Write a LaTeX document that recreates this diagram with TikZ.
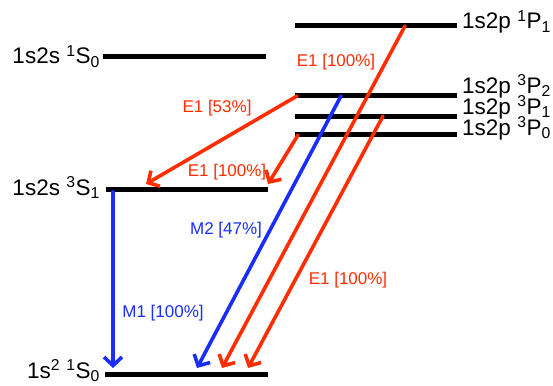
\documentclass[tikz,border=0pt]{standalone}
\usepackage{fontspec}
\setmainfont{Liberation Sans}
\usetikzlibrary{arrows.meta}
\definecolor{trred}{RGB}{255,45,0}
\definecolor{trblue}{RGB}{25,45,255}
\tikzset{
  level/.style={line width=5pt},
  lvltext/.style={inner sep=0pt,font=\fontsize{22.5}{25}\selectfont},
  trans/.style={line width=3.6pt,line cap=round,
    -{Straight Barb[length=8.5pt,width=18pt,line width=3.6pt]}},
  trtext/.style={inner sep=0pt,font=\fontsize{17}{19}\selectfont},
}

\begin{document}
\begin{tikzpicture}[x=1pt,y=-1pt]
    \useasboundingbox (0,0) rectangle (553,385);
    %% levels
    \coordinate (P1a) at (295,26);   \coordinate (P1b) at (457,26);
    \coordinate (S1a) at (103,57);   \coordinate (S1b) at (266,57);
    \coordinate (P2a) at (295,96);   \coordinate (P2b) at (457,96);
    \coordinate (Q1a) at (295,116);  \coordinate (Q1b) at (457,116);
    \coordinate (P0a) at (295,134);  \coordinate (P0b) at (457,134);
    \coordinate (T1a) at (106,189);  \coordinate (T1b) at (268,189);
    \coordinate (G0a) at (105,374);  \coordinate (G0b) at (268,374);
    \draw [level] (P1a) -- (P1b);
    \draw [level] (S1a) -- (S1b);
    \draw [level] (P2a) -- (P2b);
    \draw [level] (Q1a) -- (Q1b);
    \draw [level] (P0a) -- (P0b);
    \draw [level] (T1a) -- (T1b);
    \draw [level] (G0a) -- (G0b);
    %% level labels
    \node [lvltext,anchor=base west] (P1t) at ([xshift=5pt,yshift=-3pt]P1b) {1s2p \textsuperscript{1}P\textsubscript{1}};
    \node [lvltext,anchor=base west] (P2t) at ([xshift=5pt,yshift=3pt]P2b) {1s2p \textsuperscript{3}P\textsubscript{2}};
    \node [lvltext,anchor=base west] (Q1t) at ([xshift=5pt,yshift=2pt]Q1b) {1s2p \textsuperscript{3}P\textsubscript{1}};
    \node [lvltext,anchor=base west] (P0t) at ([xshift=5pt,yshift=-1pt]P0b) {1s2p \textsuperscript{3}P\textsubscript{0}};
    \node [lvltext,anchor=base east] (S1t) at ([xshift=-3pt,yshift=-7pt]S1a) {1s2s \textsuperscript{1}S\textsubscript{0}};
    \node [lvltext,anchor=base east] (T1t) at ([xshift=-6pt,yshift=-6pt]T1a) {1s2s \textsuperscript{3}S\textsubscript{1}};
    \node [lvltext,anchor=base east] (G0t) at ([xshift=-5pt,yshift=-4pt]G0a) {1s\textsuperscript{2} \textsuperscript{1}S\textsubscript{0}};
    %% transitions
    \coordinate (m1s) at (113,192);  \coordinate (m1e) at (113,368);
    \coordinate (e53s) at (297,96);  \coordinate (e53e) at (146,184);
    \coordinate (e0s) at (298,135);  \coordinate (e0e) at (268,184);
    \coordinate (m2s) at (341,96);   \coordinate (m2e) at (197,368);
    \coordinate (e1s) at (405,26);   \coordinate (e1e) at (222,368);
    \coordinate (e3s) at (383,116);  \coordinate (e3e) at (248,368);
    \draw [trans,trblue] (m1s) -- (m1e);
    \draw [trans,trred] (e53s) -- (e53e);
    \draw [trans,trred] (e0s) -- (e0e);
    \draw [trans,trblue] (m2s) -- (m2e);
    \draw [trans,trred] (e1s) -- (e1e);
    \draw [trans,trred] (e3s) -- (e3e);
    %% transition labels
    \node [trtext,trred] (e1t) at (336,62) {E1 [100\%]};
    \node [trtext,trred] (e53t) at (217,108) {E1 [53\%]};
    \node [trtext,trred] (e0t) at (227,172) {E1 [100\%]};
    \node [trtext,trblue] (m2t) at (226,230) {M2 [47\%]};
    \node [trtext,trblue] (m1t) at (163,313) {M1 [100\%]};
    \node [trtext,trred] (e3t) at (348,280) {E1 [100\%]};
\end{tikzpicture}
\end{document}
